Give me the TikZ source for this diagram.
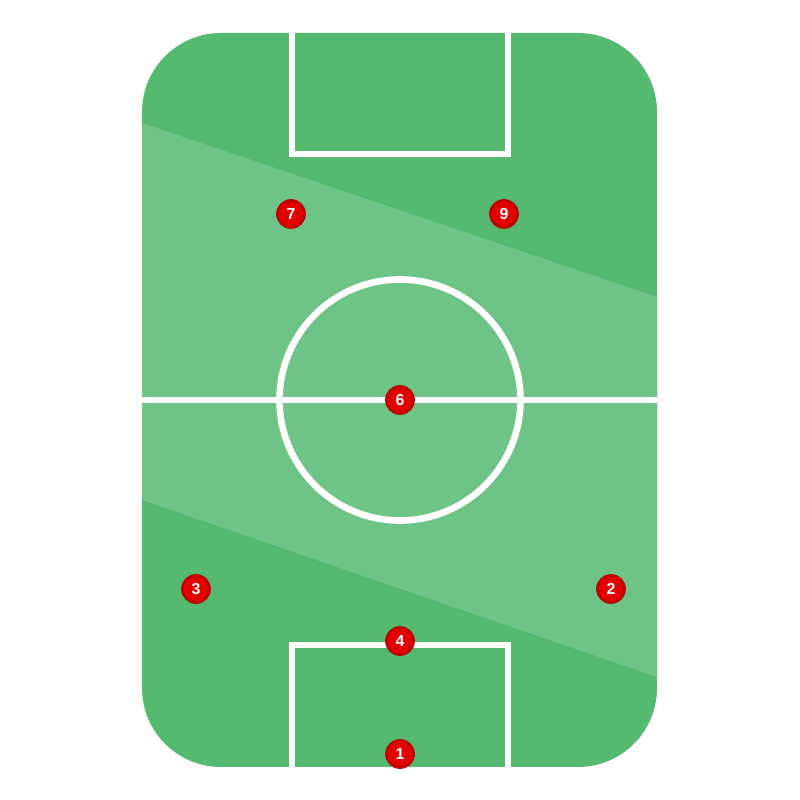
\documentclass[tikz,border=0pt]{standalone}
\usepackage{fontspec}
\setmainfont{Liberation Sans}

\begin{document}
\begin{tikzpicture}[x=1in,y=1in,field/.style={rounded corners=0.79in},line/.style={white,line width=4.8pt},player/.style={circle,fill=playerred,draw=playerdark,line width=2pt,minimum size=0.27in,inner sep=0pt,text=white,font=\fontsize{11.5}{13}\selectfont\bfseries}]
\definecolor{pitchdark}{RGB}{85,186,111}
\definecolor{pitchlight}{RGB}{109,196,134}
\definecolor{playerred}{RGB}{228,0,0}
\definecolor{playerdark}{RGB}{190,0,0}
\useasboundingbox (0,0) rectangle (8,8);
\fill[pitchdark,field] (1.42,0.33) rectangle (6.57,7.67);
\begin{scope}
\clip[field] (1.42,0.33) rectangle (6.57,7.67);
\fill[pitchlight] (1.42,6.77) -- (6.57,5.03) -- (6.57,1.23) -- (1.42,3.00) -- cycle;
\draw[line] (2.92,7.8) -- (2.92,6.46) -- (5.08,6.46) -- (5.08,7.8);
\draw[line] (2.92,0.2) -- (2.92,1.55) -- (5.08,1.55) -- (5.08,0.2);
\draw[line] (1.3,4) -- (6.7,4);
\draw[line] (4,4) circle[radius=1.205];
\end{scope}
\node[player] (p7) at (2.91,5.86) {7};
\node[player] (p9) at (5.04,5.86) {9};
\node[player] (p6) at (4.00,4.00) {6};
\node[player] (p3) at (1.96,2.11) {3};
\node[player] (p2) at (6.11,2.11) {2};
\node[player] (p4) at (4.00,1.59) {4};
\node[player] (p1) at (4.00,0.46) {1};
\end{tikzpicture}
\end{document}
